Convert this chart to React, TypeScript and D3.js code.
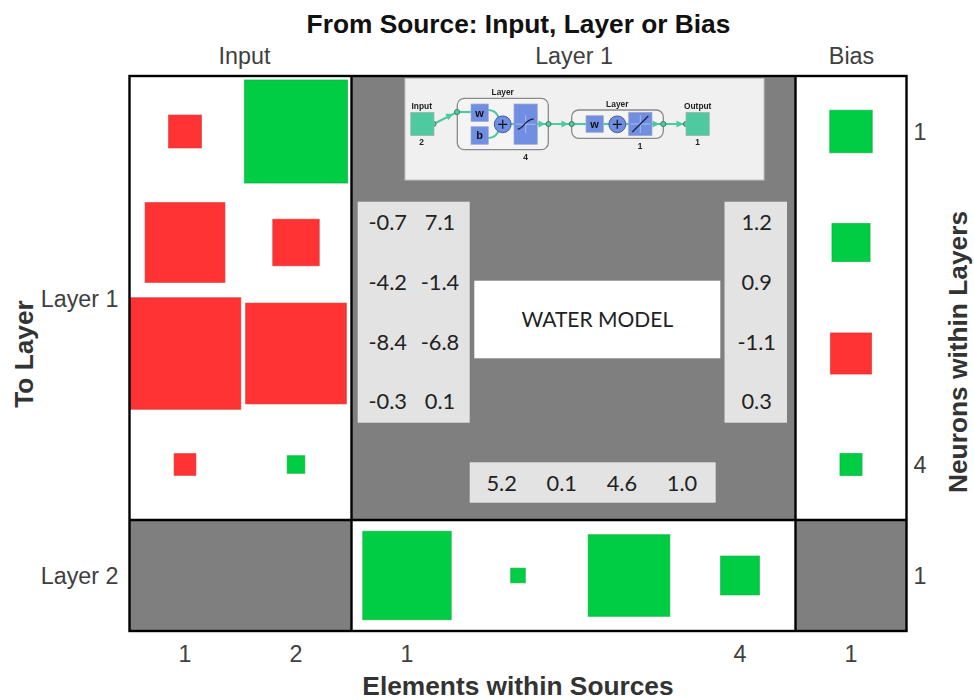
import React, { useEffect, useRef } from 'react'
import * as d3 from 'd3'

// elements within sources, left to right: input 1-2, layer 1-4, bias 1
const elementLabels = ['1', '2', '1', '', '', '4', '1']
// neurons within layers, top to bottom
const neuronLabels = ['1', '', '', '4', '1']
const sourceNames = ['Input', 'Layer 1', 'Bias']
const targetNames = ['Layer 1', 'Layer 2']

// weights
const inputWeights = [
  [-0.73, 7.17],
  [-4.3, -1.46],
  [-8.4, -6.85],
  [-0.32, 0.21],
]
const biasWeights = [1.22, 0.98, -1.14, 0.33]
const layer2Weights = [5.28, 0.145, 4.5, 1.02]

// weights as printed on the panels
const inputText = [
  ['-0.7', '7.1'],
  ['-4.2', '-1.4'],
  ['-8.4', '-6.8'],
  ['-0.3', '0.1'],
]
const biasText = ['1.2', '0.9', '-1.1', '0.3']
const layer2Text = ['5.2', '0.1', '4.6', '1.0']

const RED = '#ff3333'
const GREEN = '#00cc44'
const GRAY = '#7f7f7f'
const PANEL = '#e3e3e3'
const TEAL = '#4fc9a0'
const BLUE = '#6f8fe3'
const ARIAL = '"Liberation Sans", Arial, sans-serif'

const App: React.FC = () => {
  const svgRef = useRef<SVGSVGElement | null>(null)

  useEffect(() => {
    if (!svgRef.current) return

    const svg = d3.select(svgRef.current)
    svg.selectAll('*').remove()

    const left = 129.5
    const right = 906.5
    const top = 76
    const bottom = 631

    const x = d3.scaleBand<number>().domain(d3.range(7)).range([left, right])
    const y = d3.scaleBand<number>().domain(d3.range(5)).range([top, bottom])
    const side = d3.scaleSqrt().domain([0, 8.4]).range([0, 111.6])
    const w = x.bandwidth()

    const edgeX = (i: number) => left + i * w
    const edgeY = (i: number) => top + i * w

    // gray blocks for the parts of the matrix without weights
    const grayCells = [
      { x0: 2, x1: 6, y0: 0, y1: 4 },
      { x0: 0, x1: 2, y0: 4, y1: 5 },
      { x0: 6, x1: 7, y0: 4, y1: 5 },
    ]
    svg
      .append('g')
      .selectAll('rect')
      .data(grayCells)
      .join('rect')
      .attr('x', d => edgeX(d.x0))
      .attr('y', d => edgeY(d.y0))
      .attr('width', d => edgeX(d.x1) - edgeX(d.x0))
      .attr('height', d => edgeY(d.y1) - edgeY(d.y0))
      .attr('fill', GRAY)

    const marks = [
      ...inputWeights.flatMap((row, r) =>
        row.map((v, c) => ({ col: c, row: r, v })),
      ),
      ...biasWeights.map((v, r) => ({ col: 6, row: r, v })),
      ...layer2Weights.map((v, c) => ({ col: c + 2, row: 4, v })),
    ]
    svg
      .append('g')
      .selectAll('rect')
      .data(marks)
      .join('rect')
      .attr('x', d => x(d.col)! + w / 2 - side(Math.abs(d.v)) / 2)
      .attr('y', d => y(d.row)! + w / 2 - side(Math.abs(d.v)) / 2)
      .attr('width', d => side(Math.abs(d.v)))
      .attr('height', d => side(Math.abs(d.v)))
      .attr('fill', d => (d.v < 0 ? RED : GREEN))
      .attr('stroke', d => (d.v < 0 ? '#d92b2b' : '#00ad3a'))
      .attr('stroke-opacity', 0.6)
      .attr('stroke-width', 1)

    // frame and dividers
    const frame = svg
      .append('g')
      .attr('fill', 'none')
      .attr('stroke', '#000')
      .attr('stroke-width', 2.4)
    frame
      .append('rect')
      .attr('x', left)
      .attr('y', top)
      .attr('width', right - left)
      .attr('height', bottom - top)
    frame
      .selectAll('line.v')
      .data([2, 6])
      .join('line')
      .attr('x1', d => edgeX(d))
      .attr('x2', d => edgeX(d))
      .attr('y1', top)
      .attr('y2', bottom)
    frame
      .append('line')
      .attr('x1', left)
      .attr('x2', right)
      .attr('y1', edgeY(4))
      .attr('y2', edgeY(4))

    // panels with the printed weights
    const panels = [
      { x: 357.7, y: 201.7, w: 112, h: 221, fill: PANEL },
      { x: 724.5, y: 201.7, w: 62.5, h: 221, fill: PANEL },
      { x: 469.7, y: 462.3, w: 246, h: 40.4, fill: PANEL },
      { x: 474.3, y: 280.7, w: 246, h: 77.6, fill: '#fff' },
    ]
    svg
      .append('g')
      .selectAll('rect')
      .data(panels)
      .join('rect')
      .attr('x', d => d.x)
      .attr('y', d => d.y)
      .attr('width', d => d.w)
      .attr('height', d => d.h)
      .attr('fill', d => d.fill)

    const rowY = d3.scalePoint<number>().domain(d3.range(4)).range([222.3, 401.7])
    const colX = d3.scalePoint<number>().domain(d3.range(2)).range([387.7, 440])
    const bottomX = d3.scalePoint<number>().domain(d3.range(4)).range([501.7, 682])

    const panelText = [
      ...inputText.flatMap((row, r) =>
        row.map((t, c) => ({ t, x: colX(c)!, y: rowY(r)!, size: 21.8 })),
      ),
      ...biasText.map((t, r) => ({ t, x: 756.7, y: rowY(r)!, size: 21.8 })),
      ...layer2Text.map((t, c) => ({ t, x: bottomX(c)!, y: 483.3, size: 21.8 })),
      { t: 'WATER MODEL', x: 597.3, y: 320, size: 21 },
    ]
    svg
      .append('g')
      .attr('font-family', 'Lato, sans-serif')
      .attr('fill', '#222')
      .attr('text-anchor', 'middle')
      .selectAll('text')
      .data(panelText)
      .join('text')
      .attr('x', d => d.x)
      .attr('y', d => d.y)
      .attr('dy', '0.35em')
      .attr('font-size', d => d.size)
      .text(d => d.t)

    // axes, no lines, only the labels
    const styleAxis = (g: d3.Selection<SVGGElement, unknown, null, undefined>) => {
      g.select('.domain').remove()
      g.selectAll('.tick line').remove()
      g.selectAll('.tick text')
        .style('font-family', ARIAL)
        .style('font-size', '23.3px')
        .attr('fill', '#404040')
    }
    svg
      .append('g')
      .attr('transform', `translate(0,${bottom})`)
      .call(
        d3
          .axisBottom(x)
          .tickValues(d3.range(7).filter(i => elementLabels[i]))
          .tickFormat(i => elementLabels[i])
          .tickSize(0)
          .tickPadding(14),
      )
      .call(styleAxis)
    svg
      .append('g')
      .attr('transform', `translate(${right},1.5)`)
      .call(
        d3
          .axisRight(y)
          .tickValues(d3.range(5).filter(i => neuronLabels[i]))
          .tickFormat(i => neuronLabels[i])
          .tickSize(0)
          .tickPadding(7),
      )
      .call(styleAxis)

    const sourceX = d3
      .scaleOrdinal<string, number>()
      .domain(sourceNames)
      .range([244, edgeX(4), edgeX(6.5)])
    svg
      .append('g')
      .attr('transform', `translate(0,${top})`)
      .call(d3.axisTop(sourceX as any).tickSize(0).tickPadding(12))
      .call(styleAxis)

    const targetY = d3
      .scaleOrdinal<string, number>()
      .domain(targetNames)
      .range([edgeY(2), edgeY(4.5)])
    svg
      .append('g')
      .attr('transform', `translate(${left},1)`)
      .call(d3.axisLeft(targetY as any).tickSize(0).tickPadding(11))
      .call(styleAxis)

    // titles
    const titles = svg
      .append('g')
      .attr('font-family', ARIAL)
      .attr('font-weight', 700)
      .attr('font-size', 26.3)
      .attr('text-anchor', 'middle')
    titles
      .append('text')
      .attr('x', 518.5)
      .attr('y', 33)
      .attr('fill', '#111')
      .text('From Source: Input, Layer or Bias')
    titles
      .append('text')
      .attr('x', 518)
      .attr('y', 695)
      .attr('fill', '#333')
      .text('Elements within Sources')
    titles
      .append('text')
      .attr('transform', 'translate(32.5,354) rotate(-90)')
      .attr('fill', '#333')
      .text('To Layer')
    titles
      .append('text')
      .attr('transform', 'translate(966.5,352) rotate(-90)')
      .attr('fill', '#333')
      .text('Neurons within Layers')

    // network diagram pasted over the top of the layer block
    const defs = svg.append('defs')
    defs
      .append('filter')
      .attr('id', 'soft')
      .append('feGaussianBlur')
      .attr('stdDeviation', 0.35)

    const net = svg.append('g').attr('filter', 'url(#soft)')
    net
      .append('rect')
      .attr('x', 405)
      .attr('y', 78.5)
      .attr('width', 359)
      .attr('height', 101.5)
      .attr('fill', '#f0f0f0')
      .attr('stroke', '#c4c4c4')

    const boxes = [
      { x: 457.3, y: 98.3, w: 91, h: 51.4 },
      { x: 571.7, y: 110, w: 91.6, h: 28.3 },
    ]
    net
      .selectAll('rect.box')
      .data(boxes)
      .join('rect')
      .attr('x', d => d.x)
      .attr('y', d => d.y)
      .attr('width', d => d.w)
      .attr('height', d => d.h)
      .attr('rx', 7)
      .attr('fill', '#f4f4f4')
      .attr('stroke', '#8a8a8a')
      .attr('stroke-width', 1.3)

    const wires = [
      'M433.5,124 L457.3,112',
      'M457.3,112 H471',
      'M488,110 C495,110 497,114 499,118',
      'M488,138 C495,138 497,134 499,130',
      'M511,124 H514',
      'M537,124 H571.7',
      'M571.7,124 H586',
      'M603,124 H609',
      'M626,124 H629',
      'M652,124 H686',
    ]
    net
      .append('g')
      .attr('fill', 'none')
      .attr('stroke', TEAL)
      .attr('stroke-width', 2.2)
      .selectAll('path')
      .data(wires)
      .join('path')
      .attr('d', d => d)

    // arrow heads and the little ports on the wires
    net
      .append('g')
      .attr('fill', TEAL)
      .selectAll('path')
      .data([[450, 115.5, -25], [542, 124, 0], [565, 124, 0], [656, 124, 0], [680, 124, 0]])
      .join('path')
      .attr('d', 'M-3.5,-3.5 L3.5,0 L-3.5,3.5 Z')
      .attr('transform', d => `translate(${d[0]},${d[1]}) rotate(${d[2]})`)
    net
      .append('g')
      .attr('fill', TEAL)
      .attr('stroke', '#2f6f5a')
      .attr('stroke-width', 0.8)
      .selectAll('circle')
      .data([[433.5, 124], [457, 112], [548.5, 124], [571.7, 124], [663.3, 124], [686, 124]])
      .join('circle')
      .attr('cx', d => d[0])
      .attr('cy', d => d[1])
      .attr('r', 2.6)

    const teal = [
      { x: 410.7, y: 112.3 },
      { x: 686, y: 112.3 },
    ]
    net
      .selectAll('rect.io')
      .data(teal)
      .join('rect')
      .attr('x', d => d.x)
      .attr('y', d => d.y)
      .attr('width', 23.3)
      .attr('height', 23.3)
      .attr('fill', TEAL)
      .attr('stroke', '#9fb5ac')
      .attr('stroke-width', 0.7)

    const blues = [
      { x: 471, y: 104, w: 17.3, h: 17.6, t: 'w' },
      { x: 471, y: 126.7, w: 17.3, h: 17.6, t: 'b' },
      { x: 586, y: 115.7, w: 17.3, h: 16.6, t: 'w' },
      { x: 514, y: 104, w: 23.3, h: 40.3, t: '' },
      { x: 628.7, y: 112.3, w: 23.3, h: 23.4, t: '' },
    ]
    const blueG = net.append('g')
    blueG
      .selectAll('rect')
      .data(blues)
      .join('rect')
      .attr('x', d => d.x)
      .attr('y', d => d.y)
      .attr('width', d => d.w)
      .attr('height', d => d.h)
      .attr('fill', BLUE)
      .attr('stroke', '#a5a9c0')
      .attr('stroke-width', 0.7)
    blueG
      .selectAll('text')
      .data(blues.filter(d => d.t))
      .join('text')
      .attr('x', d => d.x + d.w / 2)
      .attr('y', d => d.y + d.h / 2)
      .attr('dy', '0.35em')
      .attr('text-anchor', 'middle')
      .attr('font-family', ARIAL)
      .attr('font-weight', 700)
      .attr('font-size', 11)
      .attr('fill', '#111')
      .text(d => d.t)

    // transfer function glyphs: cross hair plus the curve
    const glyphs = [
      { cx: 525.7, cy: 124.2, d: 'M-8,5 C-2,5 -1,-5 8,-5' },
      { cx: 640.3, cy: 124, d: 'M-8,8 L8,-8' },
    ]
    glyphs.forEach(gl => {
      const g = net.append('g').attr('transform', `translate(${gl.cx},${gl.cy})`)
      g.append('path')
        .attr('d', 'M-10,0 H10 M0,-9 V9')
        .attr('stroke', '#b8c6f0')
        .attr('stroke-width', 0.8)
      g.append('path')
        .attr('d', gl.d)
        .attr('fill', 'none')
        .attr('stroke', '#15203f')
        .attr('stroke-width', 1.2)
    })

    // summing junctions
    const sums = [
      { cx: 502.7, cy: 124.3 },
      { cx: 617.3, cy: 124.3 },
    ]
    const sumG = net.append('g').selectAll('g').data(sums).join('g')
      .attr('transform', d => `translate(${d.cx},${d.cy})`)
    sumG
      .append('circle')
      .attr('r', 8.4)
      .attr('fill', BLUE)
      .attr('stroke', '#3d4f8f')
      .attr('stroke-width', 0.9)
    sumG
      .append('path')
      .attr('d', 'M-4.5,0 H4.5 M0,-4.5 V4.5')
      .attr('stroke', '#111')
      .attr('stroke-width', 1.2)

    const netText = [
      { t: 'Input', x: 421.7, y: 109 },
      { t: 'Layer', x: 502.7, y: 95 },
      { t: 'Layer', x: 617.3, y: 107 },
      { t: 'Output', x: 697.7, y: 109 },
      { t: '2', x: 421.7, y: 145 },
      { t: '4', x: 525.7, y: 160 },
      { t: '1', x: 640, y: 149 },
      { t: '1', x: 697.7, y: 145 },
    ]
    net
      .append('g')
      .attr('font-family', ARIAL)
      .attr('font-weight', 700)
      .attr('font-size', 8.4)
      .attr('fill', '#222')
      .attr('text-anchor', 'middle')
      .selectAll('text')
      .data(netText)
      .join('text')
      .attr('x', d => d.x)
      .attr('y', d => d.y)
      .text(d => d.t)
  }, [])

  return (
    <svg
      ref={svgRef}
      width={974}
      height={700}
      style={{ position: 'absolute', left: 0, top: 0, display: 'block' }}
    ></svg>
  )
}

export default App
